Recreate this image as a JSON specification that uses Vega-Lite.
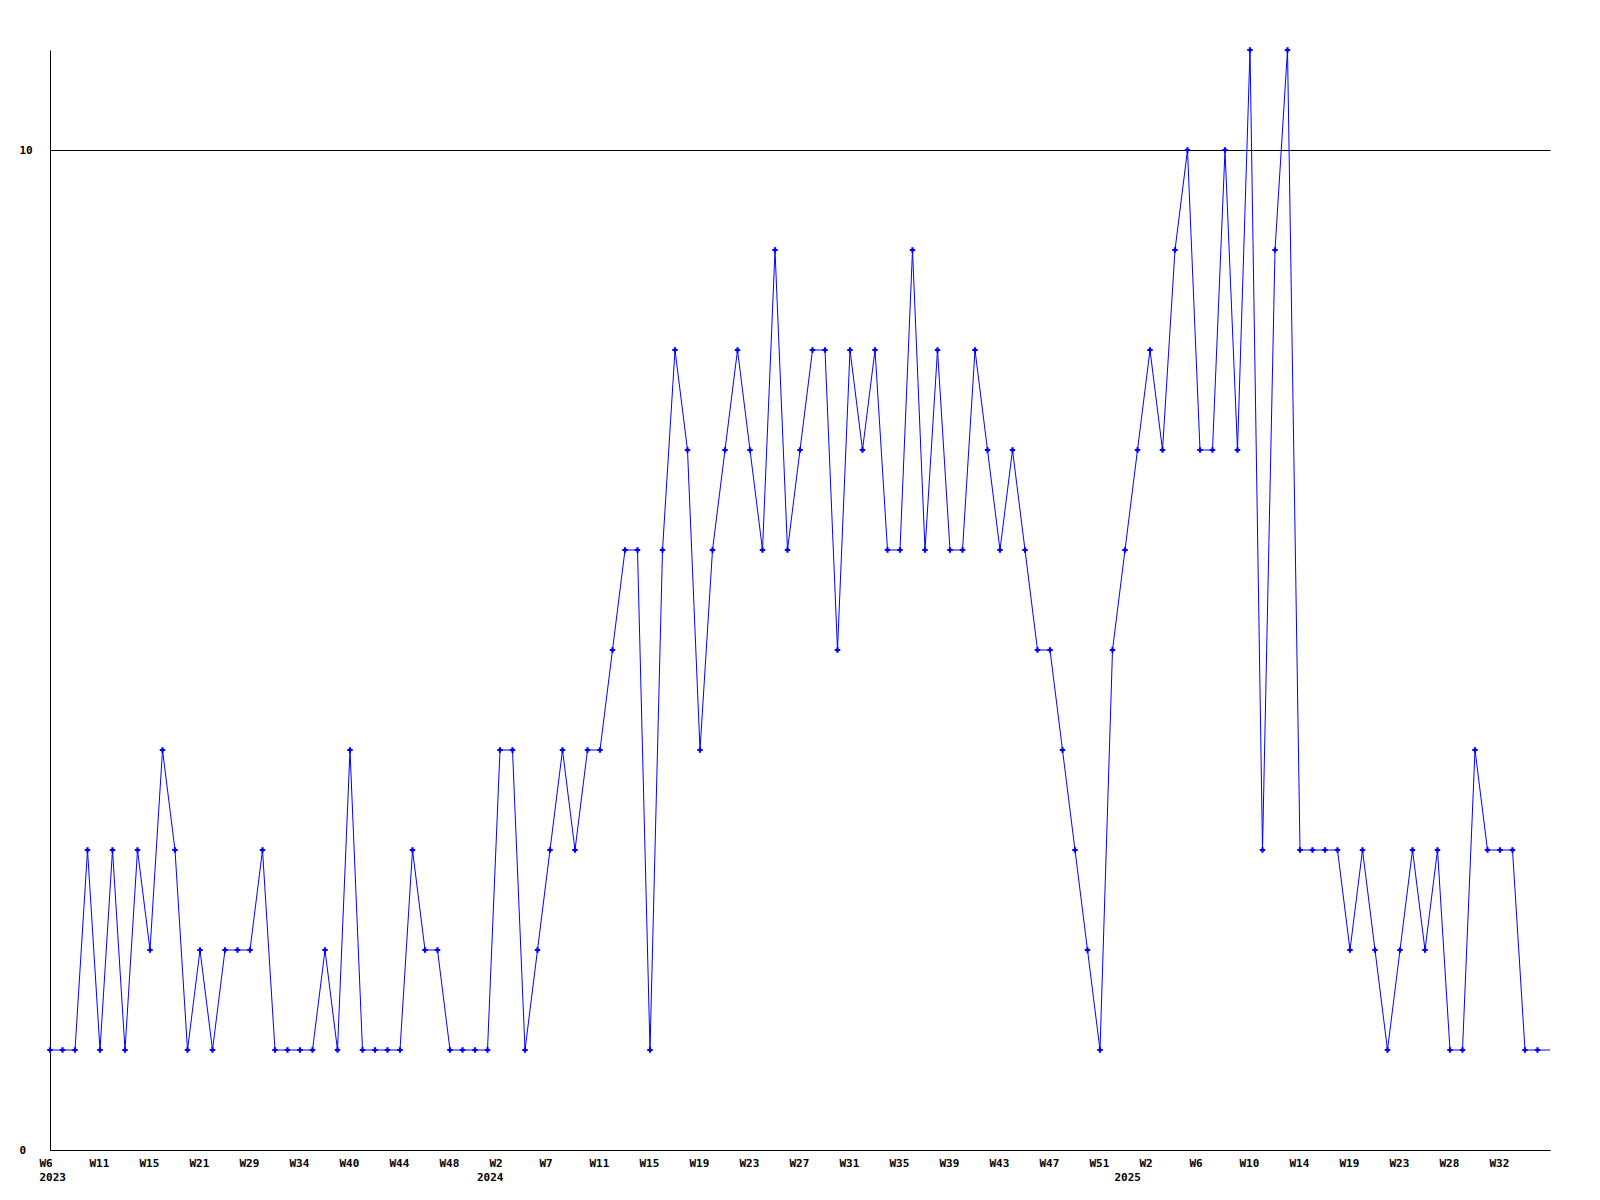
{
  "$schema": "https://vega.github.io/schema/vega-lite/v6.json",
  "autosize": "none",
  "padding": {"left": 50, "top": 50, "right": 50, "bottom": 50},
  "width": 1500,
  "height": 1100,
  "background": "#ffffff",
  "config": {
    "view": {"stroke": null},
    "axis": {
      "labelFont": "DejaVu Sans Mono",
      "labelFontWeight": "bold",
      "labelFontSize": 11,
      "labelColor": "#000000",
      "domainColor": "#000000",
      "domainWidth": 1,
      "gridColor": "#000000",
      "gridWidth": 1,
      "gridOpacity": 1,
      "ticks": false,
      "tickSize": 0,
      "title": null
    }
  },
  "data": {
    "values": [
      {"i": 0, "v": 1}, {"i": 1, "v": 1}, {"i": 2, "v": 1}, {"i": 3, "v": 3}, {"i": 4, "v": 1},
      {"i": 5, "v": 3}, {"i": 6, "v": 1}, {"i": 7, "v": 3}, {"i": 8, "v": 2}, {"i": 9, "v": 4},
      {"i": 10, "v": 3}, {"i": 11, "v": 1}, {"i": 12, "v": 2}, {"i": 13, "v": 1}, {"i": 14, "v": 2},
      {"i": 15, "v": 2}, {"i": 16, "v": 2}, {"i": 17, "v": 3}, {"i": 18, "v": 1}, {"i": 19, "v": 1},
      {"i": 20, "v": 1}, {"i": 21, "v": 1}, {"i": 22, "v": 2}, {"i": 23, "v": 1}, {"i": 24, "v": 4},
      {"i": 25, "v": 1}, {"i": 26, "v": 1}, {"i": 27, "v": 1}, {"i": 28, "v": 1}, {"i": 29, "v": 3},
      {"i": 30, "v": 2}, {"i": 31, "v": 2}, {"i": 32, "v": 1}, {"i": 33, "v": 1}, {"i": 34, "v": 1},
      {"i": 35, "v": 1}, {"i": 36, "v": 4}, {"i": 37, "v": 4}, {"i": 38, "v": 1}, {"i": 39, "v": 2},
      {"i": 40, "v": 3}, {"i": 41, "v": 4}, {"i": 42, "v": 3}, {"i": 43, "v": 4}, {"i": 44, "v": 4},
      {"i": 45, "v": 5}, {"i": 46, "v": 6}, {"i": 47, "v": 6}, {"i": 48, "v": 1}, {"i": 49, "v": 6},
      {"i": 50, "v": 8}, {"i": 51, "v": 7}, {"i": 52, "v": 4}, {"i": 53, "v": 6}, {"i": 54, "v": 7},
      {"i": 55, "v": 8}, {"i": 56, "v": 7}, {"i": 57, "v": 6}, {"i": 58, "v": 9}, {"i": 59, "v": 6},
      {"i": 60, "v": 7}, {"i": 61, "v": 8}, {"i": 62, "v": 8}, {"i": 63, "v": 5}, {"i": 64, "v": 8},
      {"i": 65, "v": 7}, {"i": 66, "v": 8}, {"i": 67, "v": 6}, {"i": 68, "v": 6}, {"i": 69, "v": 9},
      {"i": 70, "v": 6}, {"i": 71, "v": 8}, {"i": 72, "v": 6}, {"i": 73, "v": 6}, {"i": 74, "v": 8},
      {"i": 75, "v": 7}, {"i": 76, "v": 6}, {"i": 77, "v": 7}, {"i": 78, "v": 6}, {"i": 79, "v": 5},
      {"i": 80, "v": 5}, {"i": 81, "v": 4}, {"i": 82, "v": 3}, {"i": 83, "v": 2}, {"i": 84, "v": 1},
      {"i": 85, "v": 5}, {"i": 86, "v": 6}, {"i": 87, "v": 7}, {"i": 88, "v": 8}, {"i": 89, "v": 7},
      {"i": 90, "v": 9}, {"i": 91, "v": 10}, {"i": 92, "v": 7}, {"i": 93, "v": 7}, {"i": 94, "v": 10},
      {"i": 95, "v": 7}, {"i": 96, "v": 11}, {"i": 97, "v": 3}, {"i": 98, "v": 9}, {"i": 99, "v": 11},
      {"i": 100, "v": 3}, {"i": 101, "v": 3}, {"i": 102, "v": 3}, {"i": 103, "v": 3}, {"i": 104, "v": 2},
      {"i": 105, "v": 3}, {"i": 106, "v": 2}, {"i": 107, "v": 1}, {"i": 108, "v": 2}, {"i": 109, "v": 3},
      {"i": 110, "v": 2}, {"i": 111, "v": 3}, {"i": 112, "v": 1}, {"i": 113, "v": 1}, {"i": 114, "v": 4},
      {"i": 115, "v": 3}, {"i": 116, "v": 3}, {"i": 117, "v": 3}, {"i": 118, "v": 1}, {"i": 119, "v": 1},
      {"i": 120, "v": 1}
    ]
  },
  "layer": [
    {
      "mark": {"type": "line", "color": "#0000ff", "strokeWidth": 1, "interpolate": "linear"},
      "encoding": {
        "x": {
          "field": "i",
          "type": "quantitative",
          "scale": {"domain": [0, 120], "nice": false, "zero": false},
          "axis": {
            "values": [0, 4, 8, 12, 16, 20, 24, 28, 32, 36, 40, 44, 48, 52, 56, 60, 64, 68, 72, 76, 80, 84, 88, 92, 96, 100, 104, 108, 112, 116],
            "labelExpr": "['W6','W11','W15','W21','W29','W34','W40','W44','W48','W2','W7','W11','W15','W19','W23','W27','W31','W35','W39','W43','W47','W51','W2','W6','W10','W14','W19','W23','W28','W32'][round(datum.value/4)]",
            "grid": false,
            "labelAlign": "left",
            "labelBaseline": "top",
            "labelOffset": -11,
            "labelPadding": 7,
            "labelOverlap": false,
            "labelFlush": false,
            "labelBound": false
          }
        },
        "y": {
          "field": "v",
          "type": "quantitative",
          "scale": {"domain": [0, 11], "nice": false},
          "axis": {
            "values": [0, 10],
            "grid": true,
            "labelAlign": "left",
            "labelBaseline": "middle",
            "labelPadding": 31,
            "labelOverlap": false,
            "labelFlush": false,
            "labelBound": false
          }
        }
      }
    },
    {
      "transform": [{"filter": "datum.i < 120"}],
      "mark": {"type": "point", "shape": "cross", "filled": true, "size": 30, "color": "#0000ff", "opacity": 1},
      "encoding": {
        "x": {
          "field": "i",
          "type": "quantitative",
          "axis": {
            "orient": "bottom",
            "values": [0, 35, 86],
            "labelExpr": "datum.value < 10 ? '2023' : (datum.value < 60 ? '2024' : '2025')",
            "domain": false,
            "grid": false,
            "labelAlign": "left",
            "labelBaseline": "top",
            "labelOffset": -11,
            "labelPadding": 21,
            "labelOverlap": false,
            "labelFlush": false,
            "labelBound": false
          }
        },
        "y": {"field": "v", "type": "quantitative", "axis": null}
      }
    }
  ],
  "resolve": {"axis": {"x": "independent", "y": "independent"}}
}
